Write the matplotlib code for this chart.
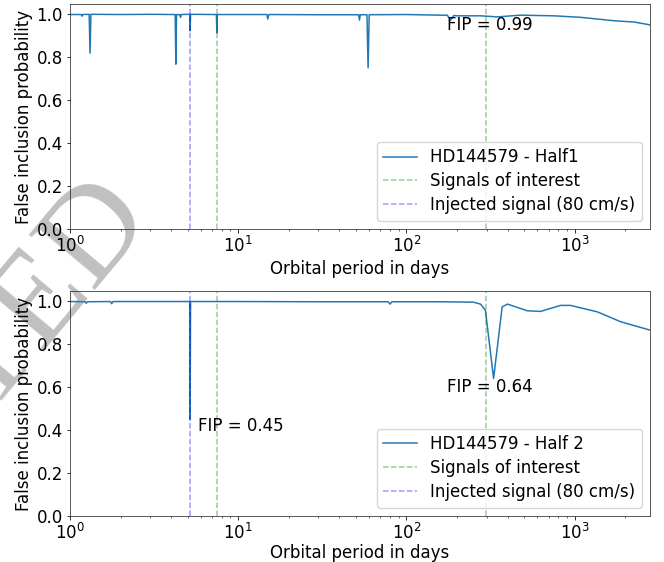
import matplotlib
matplotlib.use("Agg")
from matplotlib import pyplot as plt

# FIP vs orbital period, first half of the data
period_h1 = [1.0, 1.17, 1.18, 1.19, 1.30, 1.316, 1.332, 2.0, 3.0, 4.22, 4.26, 4.30,
             4.50, 4.54, 4.58, 5.15, 5.18, 5.21, 7.42, 7.47, 7.52, 14.8, 15.0, 15.2,
             30.0, 52.0, 52.6, 53.2, 58.3, 59.2, 60.1, 100.0, 159.0, 175.0, 183.0,
             191.0, 200.0, 276.0, 347.0, 477.0, 754.0, 1086.0, 1715.0, 2255.0, 2807.0]
fip_h1 = [0.998, 0.998, 0.99, 0.998, 0.999, 0.818, 0.999, 0.998, 0.999, 0.998, 0.767, 0.998,
          0.997, 0.985, 0.998, 0.999, 0.922, 0.999, 0.998, 0.913, 0.998, 0.998, 0.977, 0.998,
          0.997, 0.997, 0.972, 0.997, 0.997, 0.75, 0.997, 0.998, 0.995, 0.995, 0.972,
          0.993, 0.992, 0.992, 0.987, 0.995, 0.992, 0.985, 0.969, 0.963, 0.95]

# second half
period_h2 = [1.0, 1.23, 1.25, 1.27, 1.74, 1.77, 1.80, 3.0, 5.15, 5.18, 5.21, 10.0,
             30.0, 78.0, 80.0, 82.0, 150.0, 250.0, 276.0, 295.0, 330.0, 371.0, 399.0,
             523.0, 628.0, 826.0, 946.0, 1365.0, 1878.0, 2807.0]
fip_h2 = [0.998, 0.997, 0.99, 0.997, 0.998, 0.988, 0.998, 0.998, 0.998, 0.45, 0.998, 0.998,
          0.997, 0.997, 0.986, 0.997, 0.997, 0.995, 0.986, 0.958, 0.64, 0.973, 0.986,
          0.955, 0.952, 0.98, 0.98, 0.95, 0.904, 0.865]

signals = [7.47, 296.0]
injected = 5.18

labels = ["HD144579 - Half1", "HD144579 - Half 2"]
fip_text = [(175.0, 0.925, "FIP = 0.99"), (5.75, 0.397, "FIP = 0.45"), (175.0, 0.578, "FIP = 0.64")]

# original looks like it was drawn at a lower dpi, so lines / pads are thinner than default
k = 0.72
plt.rcParams.update({
    "font.size": 12,
    "lines.linewidth": 1.5 * k,
    "axes.linewidth": 0.8 * k,
    "xtick.major.size": 3.5 * k, "ytick.major.size": 3.5 * k,
    "xtick.minor.size": 2.0 * k,
    "xtick.major.width": 0.8 * k, "ytick.major.width": 0.8 * k,
    "xtick.minor.width": 0.6 * k,
    "xtick.major.pad": 3.5 * k, "ytick.major.pad": 3.5 * k,
    "axes.labelpad": 4.0 * k,
    "axes.edgecolor": "#333333",
})

fig = plt.figure(figsize=(6.64, 5.62), dpi=100)
ax1 = fig.add_axes([0.1054, 0.5925, 0.8736, 0.4004])
ax2 = fig.add_axes([0.1054, 0.0819, 0.8736, 0.4003])

for ax, p, f, lab in [(ax1, period_h1, fip_h1, labels[0]), (ax2, period_h2, fip_h2, labels[1])]:
    ax.set_facecolor("none")
    ax.plot(p, f, color="#1f77b4", label=lab)
    for i, s in enumerate(signals):
        ax.axvline(s, color="g", ls="--", alpha=0.4, label="Signals of interest" if i == 0 else None)
    ax.axvline(injected, color="b", ls="--", alpha=0.4, label="Injected signal (80 cm/s)")
    ax.set_xscale("log")
    ax.set_xlim(1, 2810)
    ax.set_ylim(0, 1.047)
    ax.set_ylabel("False inclusion probability")
    ax.legend(loc="lower right", labelspacing=0.35)

ax1.set_xlabel("Orbital period in days")
ax2.set_xlabel("Orbital period in days", labelpad=1.0)

ax1.text(fip_text[0][0], fip_text[0][1], fip_text[0][2])
ax2.text(fip_text[1][0], fip_text[1][1], fip_text[1][2])
ax2.text(fip_text[2][0], fip_text[2][1], fip_text[2][2])

# journal watermark, behind everything
fig.text(0.232, 0.612, "ACCEPTED", rotation=50, rotation_mode="anchor",
         ha="right", va="baseline", fontsize=95, family="Liberation Serif",
         color="#c0c0c0", zorder=-1)

fig.savefig("out.png", dpi=100)
